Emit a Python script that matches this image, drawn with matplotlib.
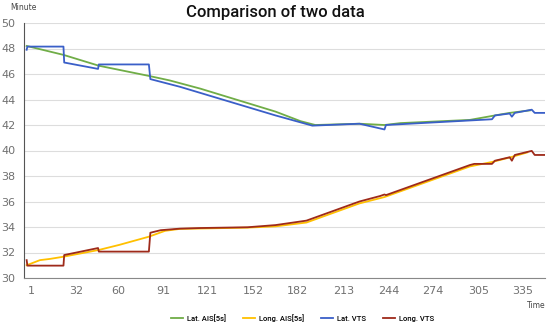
import matplotlib
matplotlib.use('Agg')
import matplotlib.pyplot as plt

# day-of-year style x values, minutes on y
lat_vts_x = [-2, -1.5, 23, 23.5, 46.5, 47, 81, 82, 102, 167, 192, 224, 241, 242, 314, 316, 326, 327.5, 329.5, 341, 343, 350]
lat_vts_y = [47.9, 48.15, 48.15, 46.9, 46.4, 46.75, 46.75, 45.6, 45.0, 42.75, 41.95, 42.1, 41.65, 42.0, 42.45, 42.75, 42.9, 42.65, 42.95, 43.2, 42.95, 42.95]

lat_ais_x = [-2, 23, 47, 81, 95, 116, 167, 184, 194, 224, 241, 252, 299, 316, 326, 340]
lat_ais_y = [48.2, 47.5, 46.65, 45.85, 45.5, 44.85, 43.05, 42.3, 42.0, 42.1, 42.0, 42.15, 42.4, 42.75, 42.95, 43.15]

long_vts_x = [-2, -1.5, 23, 23.5, 46.5, 47, 81, 82, 89, 102, 116, 148, 167, 188, 224, 238, 241, 242, 299, 302, 314, 316, 326, 327.5, 329.5, 341, 343, 350]
long_vts_y = [31.4, 30.97, 30.97, 31.8, 32.35, 32.07, 32.07, 33.55, 33.75, 33.87, 33.92, 33.98, 34.15, 34.5, 36.0, 36.43, 36.55, 36.5, 38.86, 38.95, 38.95, 39.2, 39.47, 39.2, 39.65, 39.97, 39.65, 39.65]

long_ais_x = [-2, 7, 14, 23, 47, 61, 81, 92, 102, 148, 167, 188, 224, 241, 299, 314, 326, 338]
long_ais_y = [31.0, 31.4, 31.5, 31.67, 32.2, 32.6, 33.24, 33.7, 33.85, 33.95, 34.05, 34.35, 35.85, 36.35, 38.75, 39.1, 39.45, 39.85]

x_ticks = [1, 32, 60, 91, 121, 152, 182, 213, 244, 274, 305, 335]
y_ticks = list(range(30, 51, 2))

fig = plt.figure(figsize=(5.5, 3.27), dpi=100)
ax = fig.add_axes([24/550, 1-278/327, (545-24)/550, (278-23)/327])

ax.plot(lat_ais_x, lat_ais_y, color='#70AD47', lw=1.3, label='Lat. AIS[5s]')
ax.plot(long_ais_x, long_ais_y, color='#FFC000', lw=1.3, label='Long. AIS[5s]')
ax.plot(lat_vts_x, lat_vts_y, color='#3A5FC8', lw=1.3, label='Lat. VTS')
ax.plot(long_vts_x, long_vts_y, color='#9E2A1A', lw=1.3, label='Long. VTS')

ax.set_xlim(-3.8, 350)
ax.set_ylim(30, 50)
ax.set_xticks(x_ticks)
ax.set_yticks(y_ticks)
ax.tick_params(length=0, labelsize=8, colors='#707070', pad=6)
ax.grid(axis='y', color='#dddddd', lw=0.8)
ax.set_axisbelow(True)
for s in ['top', 'right']:
	ax.spines[s].set_visible(False)
ax.spines['left'].set_color('#555555')
ax.spines['bottom'].set_color('#888888')

fig.text(0.5, 0.962, 'Comparison of two data', ha='center', va='center',
	fontsize=12, family='Roboto', weight='medium', color='#111111')
fig.text(10/550, 1-7/327, 'Minute', ha='left', va='center', fontsize=5.5, color='#444444')
fig.text(536/550, 1-305/327, 'Time', ha='center', va='center', fontsize=5.5, color='#444444')

fig.legend(loc='center', bbox_to_anchor=(0.55, 1-318/327), ncol=4, frameon=False,
	prop={'size': 5.5, 'family': 'Roboto', 'weight': 'medium'},
	handlelength=1.6, columnspacing=2.2, handletextpad=0.5)

fig.savefig('out.png', dpi=100)
